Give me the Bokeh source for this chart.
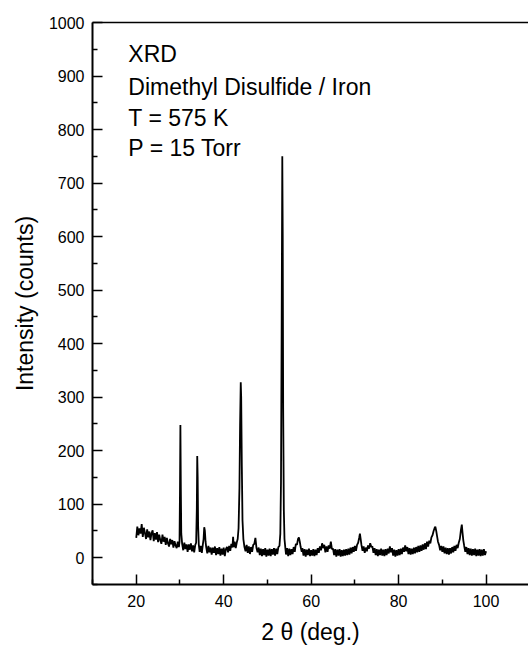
from bokeh.plotting import figure
from bokeh.models import FixedTicker, LinearAxis, Range1d, Label
from bokeh.embed import file_html
from bokeh.resources import INLINE

# ---- data ----
TWO_THETA = [
    20.0, 20.25, 20.5, 20.75, 21.0, 21.25, 21.5, 21.75, 22.0, 22.25,
    22.5, 22.75, 23.0, 23.25, 23.5, 23.75, 24.0, 24.25, 24.5, 24.75,
    25.0, 25.25, 25.5, 25.75, 26.0, 26.25, 26.5, 26.75, 27.0, 27.25,
    27.5, 27.75, 28.0, 28.25, 28.5, 28.75, 29.0, 29.25, 29.5, 29.75,
    29.9, 30.0, 30.1, 30.2, 30.3, 30.5, 30.75, 31.0, 31.25, 31.5,
    31.75, 32.0, 32.25, 32.5, 32.75, 33.0, 33.25, 33.5, 33.7, 33.85,
    33.95, 34.05, 34.15, 34.3, 34.5, 34.75, 35.0, 35.25, 35.4, 35.55,
    35.7, 35.85, 36.0, 36.25, 36.5, 36.75, 37.0, 37.25, 37.5, 37.75,
    38.0, 38.25, 38.5, 38.75, 39.0, 39.25, 39.5, 39.75, 40.0, 40.25,
    40.5, 40.75, 41.0, 41.25, 41.5, 41.75, 42.0, 42.15, 42.3, 42.5,
    42.75, 43.0, 43.2, 43.4, 43.6, 43.75, 43.9, 44.0, 44.15, 44.3,
    44.5, 44.75, 45.0, 45.25, 45.5, 45.75, 46.0, 46.25, 46.5, 46.75,
    47.0, 47.25, 47.5, 47.75, 48.0, 48.25, 48.5, 48.75, 49.0, 49.25,
    49.5, 49.75, 50.0, 50.25, 50.5, 50.75, 51.0, 51.25, 51.5, 51.75,
    52.0, 52.25, 52.5, 52.75, 52.95, 53.1, 53.25, 53.4, 53.5, 53.6,
    53.75, 53.9, 54.1, 54.25, 54.5, 54.75, 55.0, 55.25, 55.5, 55.75,
    56.0, 56.25, 56.5, 56.75, 57.0, 57.2, 57.4, 57.6, 57.85, 58.0,
    58.25, 58.5, 58.75, 59.0, 59.25, 59.5, 59.75, 60.0, 60.25, 60.5,
    60.75, 61.0, 61.25, 61.5, 61.75, 62.0, 62.25, 62.5, 62.75, 63.0,
    63.25, 63.5, 63.75, 64.0, 64.25, 64.5, 64.75, 65.0, 65.25, 65.5,
    65.75, 66.0, 66.25, 66.5, 66.75, 67.0, 67.25, 67.5, 67.75, 68.0,
    68.25, 68.5, 68.75, 69.0, 69.25, 69.5, 69.75, 70.0, 70.25, 70.5,
    70.75, 71.0, 71.15, 71.3, 71.5, 71.75, 72.0, 72.25, 72.5, 72.75,
    73.0, 73.25, 73.5, 73.75, 74.0, 74.25, 74.5, 74.75, 75.0, 75.25,
    75.5, 75.75, 76.0, 76.25, 76.5, 76.75, 77.0, 77.25, 77.5, 77.75,
    78.0, 78.25, 78.5, 78.75, 79.0, 79.25, 79.5, 79.75, 80.0, 80.25,
    80.5, 80.75, 81.0, 81.25, 81.5, 81.75, 82.0, 82.25, 82.5, 82.75,
    83.0, 83.25, 83.5, 83.75, 84.0, 84.25, 84.5, 84.75, 85.0, 85.25,
    85.5, 85.75, 86.0, 86.25, 86.5, 86.75, 87.0, 87.25, 87.5, 87.75,
    88.0, 88.25, 88.4, 88.6, 88.8, 89.0, 89.25, 89.5, 89.75, 90.0,
    90.25, 90.5, 90.75, 91.0, 91.25, 91.5, 91.75, 92.0, 92.25, 92.5,
    92.75, 93.0, 93.25, 93.5, 93.75, 94.0, 94.25, 94.45, 94.6, 94.8,
    95.0, 95.25, 95.5, 95.75, 96.0, 96.25, 96.5, 96.75, 97.0, 97.25,
    97.5, 97.75, 98.0, 98.25, 98.5, 98.75, 99.0, 99.25, 99.5, 99.75,
    100.0,
]
COUNTS = [
    37, 58, 42, 55, 45, 63, 39, 56, 46, 35,
    53, 38, 49, 33, 46, 51, 31, 46, 34, 48,
    29, 43, 33, 26, 43, 30, 39, 24, 37, 27,
    21, 35, 25, 33, 19, 31, 23, 18, 30, 20,
    30, 120, 248, 130, 45, 26, 14, 28, 16, 25,
    11, 25, 15, 27, 12, 23, 10, 24, 28, 90,
    190, 150, 60, 25, 11, 22, 9, 26, 35, 57,
    50, 30, 20, 8, 22, 10, 19, 6, 19, 9,
    21, 5, 18, 7, 20, 4, 17, 6, 19, 3,
    16, 20, 10, 22, 13, 26, 19, 39, 20, 30,
    18, 29, 35, 55, 130, 250, 328, 300, 170, 70,
    35, 20, 12, 24, 9, 21, 7, 20, 11, 24,
    26, 37, 18, 10, 19, 5, 17, 3, 16, 5,
    18, 2, 15, 4, 17, 3, 16, 6, 18, 4,
    17, 7, 20, 22, 45, 140, 420, 750, 600, 280,
    90, 35, 18, 6, 18, 3, 17, 5, 16, 7,
    20, 11, 26, 24, 35, 38, 30, 20, 11, 18,
    4, 16, 2, 15, 5, 17, 3, 14, 4, 16,
    3, 15, 5, 18, 9, 21, 14, 27, 18, 24,
    10, 21, 11, 23, 17, 30, 16, 17, 5, 16,
    2, 15, 4, 16, 2, 14, 3, 15, 4, 16,
    5, 17, 6, 19, 8, 20, 11, 22, 13, 24,
    28, 38, 45, 36, 24, 13, 21, 9, 19, 12,
    23, 17, 27, 20, 21, 9, 18, 5, 16, 3,
    15, 5, 17, 4, 15, 3, 16, 5, 17, 8,
    21, 10, 18, 4, 15, 2, 14, 4, 16, 5,
    17, 7, 19, 11, 23, 12, 20, 7, 18, 6,
    17, 7, 19, 8, 20, 10, 22, 11, 23, 13,
    25, 15, 27, 16, 30, 21, 32, 27, 38, 42,
    50, 56, 58, 50, 40, 30, 24, 14, 22, 11,
    21, 8, 19, 7, 18, 6, 18, 8, 20, 10,
    22, 13, 24, 18, 28, 35, 52, 62, 48, 32,
    22, 11, 20, 7, 18, 5, 17, 4, 16, 5,
    17, 3, 15, 4, 16, 3, 15, 4, 16, 5,
    12,
]
X_MAJOR_TICKS = [20, 40, 60, 80, 100]
X_MINOR_TICKS = [10, 30, 50, 70, 90, 110]
Y_MAJOR_TICKS = [0, 100, 200, 300, 400, 500, 600, 700, 800, 900, 1000]
Y_MINOR_TICKS = [-50, 50, 150, 250, 350, 450, 550, 650, 750, 850, 950]
INFO_LINES = ["XRD", "Dimethyl Disulfide / Iron", "T = 575 K", "P = 15 Torr"]
INFO_Y = [941, 880, 822, 766]
X_TITLE = "2 \u03b8 (deg.)"
Y_TITLE = "Intensity (counts)"

assert len(TWO_THETA) == len(COUNTS)

FONT = "Liberation Sans"

p = figure(width=528, height=647, output_backend="svg", toolbar_location=None,
           x_range=Range1d(10, 109.7), y_range=Range1d(-50, 1000),
           min_border_left=92, min_border_right=0, min_border_top=22,
           min_border_bottom=63)
p.grid.visible = False
p.outline_line_color = None
p.background_fill_color = "white"
p.border_fill_color = "white"

p.line(TWO_THETA, COUNTS, line_color="black", line_width=1.8)

for ax in (p.xaxis[0], p.yaxis[0]):
    ax.axis_line_width = 2
    ax.axis_line_color = "black"
    ax.major_tick_in = 10
    ax.major_tick_out = 0
    ax.minor_tick_in = 5
    ax.minor_tick_out = 0
    ax.major_tick_line_width = 1.5
    ax.minor_tick_line_width = 1.5
    ax.major_tick_line_color = "black"
    ax.minor_tick_line_color = "black"
    ax.major_label_text_font = FONT
    ax.major_label_text_font_size = "16px"
    ax.major_label_text_color = "black"
    ax.axis_label_text_font = FONT
    ax.axis_label_text_font_size = "23px"
    ax.axis_label_text_font_style = "normal"
    ax.axis_label_text_color = "black"

p.xaxis[0].ticker = FixedTicker(ticks=X_MAJOR_TICKS, minor_ticks=X_MINOR_TICKS)
p.yaxis[0].ticker = FixedTicker(ticks=Y_MAJOR_TICKS, minor_ticks=Y_MINOR_TICKS)
p.xaxis[0].axis_label = X_TITLE
p.yaxis[0].axis_label = Y_TITLE
p.xaxis[0].major_label_standoff = 10
p.xaxis[0].axis_label_standoff = 9
p.yaxis[0].major_label_standoff = 8
p.yaxis[0].axis_label_standoff = 8

top = LinearAxis(ticker=FixedTicker(ticks=[]), axis_line_width=1.5,
                 axis_line_color="black", major_tick_line_color=None,
                 minor_tick_line_color=None, major_label_text_font_size="0px")
p.add_layout(top, "above")

for txt, yy in zip(INFO_LINES, INFO_Y):
    p.add_layout(Label(x=18.2, y=yy, text=txt, text_font=FONT,
                       text_font_size="23px", text_color="black",
                       text_baseline="alphabetic", text_align="left"))

open("out.html", "w").write(file_html(p, INLINE))
